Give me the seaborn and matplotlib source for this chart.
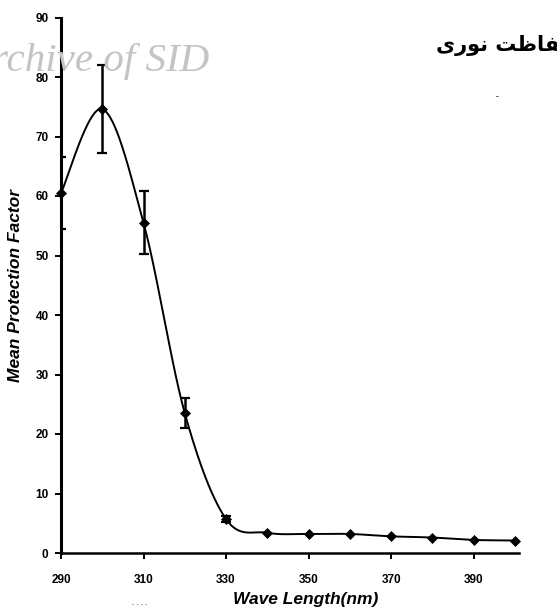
import numpy as np
import pandas as pd
import matplotlib
matplotlib.use("Agg")
import matplotlib.pyplot as plt
import seaborn as sns

# Mean protection factor measured at each UV wavelength
wavelength = [290, 300, 310, 320, 330, 340, 350, 360, 370, 380, 390, 400]
protection = [60.5, 74.6, 55.5, 23.5, 5.7, 3.4, 3.2, 3.2, 2.8, 2.6, 2.2, 2.1]
error = [6.1, 7.4, 5.3, 2.5, 0.5, 0, 0, 0, 0, 0, 0, 0]

x_ticks = [290, 310, 330, 350, 370, 390]
y_ticks = [0, 10, 20, 30, 40, 50, 60, 70, 80, 90]

title_fa = "\uFEEF\uFEAD\uFEEE\uFEE7 \uFE96\uFEC7\uFE8E\uFED4\uFEA3"  # حفاظت نوری
watermark = "Archive of SID"


def smooth(xs, ys, steps=40):
    """Catmull-Rom curve through the points (spreadsheet-style smoothed line)."""
    p = np.column_stack([xs, ys]).astype(float)
    p = np.vstack([p[0], p, p[-1]])
    out = []
    t = np.linspace(0, 1, steps, endpoint=False)[:, None]
    for i in range(1, len(p) - 2):
        p0, p1, p2, p3 = p[i - 1], p[i], p[i + 1], p[i + 2]
        seg = 0.5 * ((2 * p1) + (-p0 + p2) * t +
                     (2 * p0 - 5 * p1 + 4 * p2 - p3) * t ** 2 +
                     (-p0 + 3 * p1 - 3 * p2 + p3) * t ** 3)
        out.append(seg)
    out.append(p[-2][None, :])
    return np.vstack(out)


sns.set_theme(style="white")
plt.rcParams['font.family'] = ['Liberation Sans', 'DejaVu Sans']

W, H = 557, 609
fig = plt.figure(figsize=(W / 100, H / 100), dpi=100)
ax = fig.add_axes([61 / W, 1 - 553 / H, 458 / W, 535.5 / H])

pts = smooth(wavelength, protection)
curve = pd.DataFrame({"x": pts[:, 0], "y": pts[:, 1]})
sns.lineplot(data=curve, x="x", y="y", sort=False, estimator=None,
             color="black", linewidth=1.4, ax=ax, zorder=3)

err_x = [w for w, e in zip(wavelength, error) if e > 0]
err_y = [v for v, e in zip(protection, error) if e > 0]
err_e = [e for e in error if e > 0]
ax.errorbar(err_x, err_y, yerr=err_e, fmt="none", ecolor="black",
            elinewidth=1.8, capsize=3.5, capthick=1.6, zorder=4)

sns.scatterplot(x=wavelength, y=protection, marker="D", s=26, color="black",
                edgecolor="black", linewidth=0.5, ax=ax, zorder=5, clip_on=False)

ax.set_xlim(290, 401)
ax.set_ylim(0, 90)
ax.set_xticks(x_ticks)
ax.set_yticks(y_ticks)
ax.set_xticklabels([str(v) for v in x_ticks], fontweight="bold", fontsize=8.5)
ax.set_yticklabels([str(v) for v in y_ticks], fontweight="bold", fontsize=8.5)

for side in ("top", "right"):
    ax.spines[side].set_visible(False)
ax.spines["left"].set_linewidth(2.2)
ax.spines["bottom"].set_linewidth(1.8)
ax.spines["left"].set_color("black")
ax.spines["bottom"].set_color("black")
ax.tick_params(axis="both", direction="out", length=4, width=1.4,
               colors="black", left=True, bottom=True)
ax.tick_params(axis="x", pad=11)
ax.tick_params(axis="y", pad=5)

ax.set_xlabel("Wave Length(nm)", fontsize=12.5, fontweight="bold",
              fontstyle="italic", color="black")
ax.set_ylabel("Mean Protection Factor", fontsize=12.5, fontweight="bold",
              fontstyle="italic", color="black")
ax.xaxis.set_label_coords(0.535, -0.072)
ax.yaxis.set_label_coords(-0.082, 0.5)

fig.text(209 / W, 1 - 61 / H, watermark, ha="right", va="center",
         fontsize=29.5, fontstyle="italic", family="Liberation Serif",
         color="#c4c4c4", zorder=0)
fig.text(436 / W, 1 - 46 / H, title_fa, ha="left", va="center",
         fontsize=15, fontweight="bold", family="DejaVu Sans", color="black")
fig.text(497 / W, 1 - 97 / H, "-", ha="center", va="center", fontsize=6,
         fontweight="bold", color="black")
fig.text(140 / W, 1 - 604 / H, "- - - -", ha="center", va="center",
         fontsize=5, color="#555555")

fig.savefig("out.png", dpi=100)
